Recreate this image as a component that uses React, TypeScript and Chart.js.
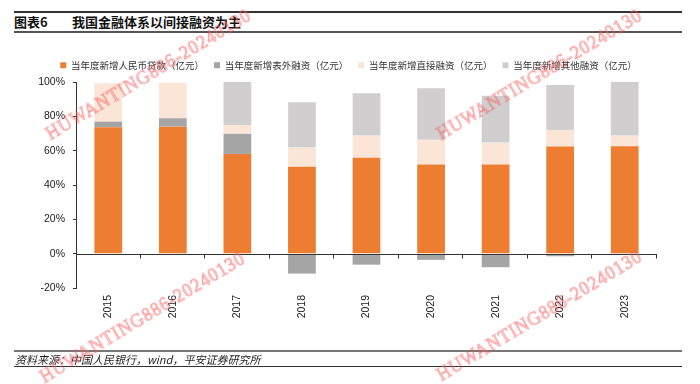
import React, { useEffect, useRef, useState } from 'react';
import { Chart, registerables } from 'chart.js';

Chart.register(...registerables);

const years = ['2015', '2016', '2017', '2018', '2019', '2020', '2021', '2022', '2023'];
const loanShare = [73.7, 74.0, 58.1, 50.7, 55.9, 52.0, 52.0, 62.4, 62.6];
const offBalanceShare = [3.2, 4.9, 11.7, -11.6, -6.4, -3.6, -7.9, -1.5, 0];
const directShare = [22.3, 20.7, 5.2, 11.1, 12.9, 14.3, 12.7, 9.7, 6.2];
const otherShare = [0, 0, 25.0, 26.4, 24.6, 30.0, 27.3, 26.2, 31.2];
const seriesNames = [
  '当年度新增人民币贷款（亿元）',
  '当年度新增表外融资（亿元）',
  '当年度新增直接融资（亿元）',
  '当年度新增其他融资（亿元）',
];
const seriesColors = ['#ED7D31', '#A5A5A5', '#FBE5D6', '#D0CECE'];
const yMin = -20;
const yMax = 100;
const yStep = 20;

const titleNo = '图表6';
const titleText = '我国金融体系以间接融资为主';
const sourceText = '资料来源：中国人民银行，wind，平安证券研究所';
const watermark = 'HUWANTING886-20240130';
const watermarkSpots = [
  [52, 143],
  [443, 143],
  [46, 386],
  [443, 384],
];

const zeroLinePlugin = {
  id: 'zeroLine',
  afterDatasetsDraw(chart: any) {
    const { ctx } = chart;
    const xs = chart.scales.x;
    const ys = chart.scales.y;
    const y0 = Math.round(ys.getPixelForValue(0)) + 0.5;
    ctx.save();
    ctx.strokeStyle = '#333';
    ctx.lineWidth = 1;
    ctx.beginPath();
    ctx.moveTo(xs.left, y0);
    ctx.lineTo(xs.right, y0);
    const n = years.length;
    for (let i = 1; i <= n; i++) {
      const px = i === n ? xs.right : (xs.getPixelForValue(i - 1) + xs.getPixelForValue(i)) / 2;
      const x = Math.round(px) - 0.5;
      ctx.moveTo(x, y0);
      ctx.lineTo(x, y0 + 4);
    }
    ctx.stroke();
    ctx.restore();
  },
};

const legendShiftPlugin = {
  id: 'legendShift',
  afterLayout(chart: any) {
    const lg = chart.legend;
    if (!lg) return;
    lg.left += 20;
    lg.right += 20;
    lg.top -= 2;
    lg.bottom -= 2;
  },
};

export default function App() {
  const ref = useRef<HTMLCanvasElement | null>(null);

  useEffect(() => {
    if (!ref.current) return;
    const sets = [loanShare, offBalanceShare, directShare, otherShare];
    const chart = new Chart(ref.current, {
      type: 'bar',
      data: {
        labels: years,
        datasets: sets.map((d, i) => ({
          label: seriesNames[i],
          data: d,
          backgroundColor: seriesColors[i],
          borderWidth: 0,
          barPercentage: 0.43,
          categoryPercentage: 1,
        })),
      },
      options: {
        responsive: false,
        animation: false,
        devicePixelRatio: 1,
        layout: { padding: { left: 0, right: 43, top: 52.5, bottom: 56 } },
        plugins: {
          tooltip: { enabled: false },
          legend: {
            position: 'top',
            labels: {
              boxWidth: 6,
              boxHeight: 6,
              padding: 10,
              color: '#333',
              font: { family: '"Noto Sans CJK SC", sans-serif', size: 9.5 },
            },
          },
        },
        scales: {
          x: {
            stacked: true,
            grid: { display: false, drawTicks: false },
            border: { display: false },
            ticks: {
              minRotation: 90,
              maxRotation: 90,
              padding: 7,
              color: '#222',
              font: { family: '"Liberation Sans", Arial, sans-serif', size: 10.5 },
            },
            afterFit(s: any) {
              s.height = 40;
            },
          },
          y: {
            stacked: true,
            min: yMin,
            max: yMax,
            ticks: {
              stepSize: yStep,
              padding: 8,
              color: '#222',
              font: { family: '"Liberation Sans", Arial, sans-serif', size: 10.5 },
              callback: (v: any) => v + '%',
            },
            grid: { drawOnChartArea: false, drawTicks: true, tickLength: 3, color: '#333' },
            border: { display: true, color: '#333', width: 1 },
            afterFit(s: any) {
              s.width = 76;
            },
          },
        },
      },
      plugins: [zeroLinePlugin, legendShiftPlugin],
    });
    return () => chart.destroy();
  }, []);

  const line = (top: number, h: number, color: string) => (
    <div style={{ position: 'absolute', left: 14, width: 668, top, height: h, background: color }} />
  );

  return (
    <div style={{ position: 'fixed', left: 0, top: 0, width: 700, height: 384, background: '#fff', overflow: 'hidden' }}>
      {line(11, 2, '#333')}
      <div style={{ position: 'absolute', left: 14, top: 13, height: 18, lineHeight: '18px', fontFamily: '"Noto Sans CJK SC", sans-serif', fontWeight: 700, fontSize: 13, color: '#111' }}>
        {titleNo}
      </div>
      <div style={{ position: 'absolute', left: 72, top: 13, height: 18, lineHeight: '18px', fontFamily: '"Noto Sans CJK SC", sans-serif', fontWeight: 700, fontSize: 13, color: '#111' }}>
        {titleText}
      </div>
      {line(31, 2, '#555')}
      <canvas ref={ref} width={700} height={384} style={{ position: 'absolute', left: 0, top: 0, width: 700, height: 384 }} />
      {line(350, 2, '#777')}
      <div style={{ position: 'absolute', left: 15, top: 352, height: 14, lineHeight: '14px', fontFamily: '"Noto Sans CJK SC", sans-serif', fontStyle: 'italic', fontSize: 11, color: '#222' }}>
        {sourceText}
      </div>
      {line(366, 1, '#333')}
      {watermarkSpots.map(([x, y], i) => (
        <span
          key={i}
          style={{
            position: 'absolute',
            left: x,
            top: y - 18,
            height: 18,
            lineHeight: '18px',
            fontFamily: '"Liberation Serif", serif',
            fontSize: 18,
            letterSpacing: 1,
            whiteSpace: 'nowrap',
            color: 'rgba(255,120,120,0.35)',
            WebkitTextStroke: '0.6px rgba(245,80,80,0.6)',
            transformOrigin: '0 100%',
            transform: 'rotate(-31deg)',
            pointerEvents: 'none',
          }}
        >
          {watermark}
        </span>
      ))}
    </div>
  );
}
